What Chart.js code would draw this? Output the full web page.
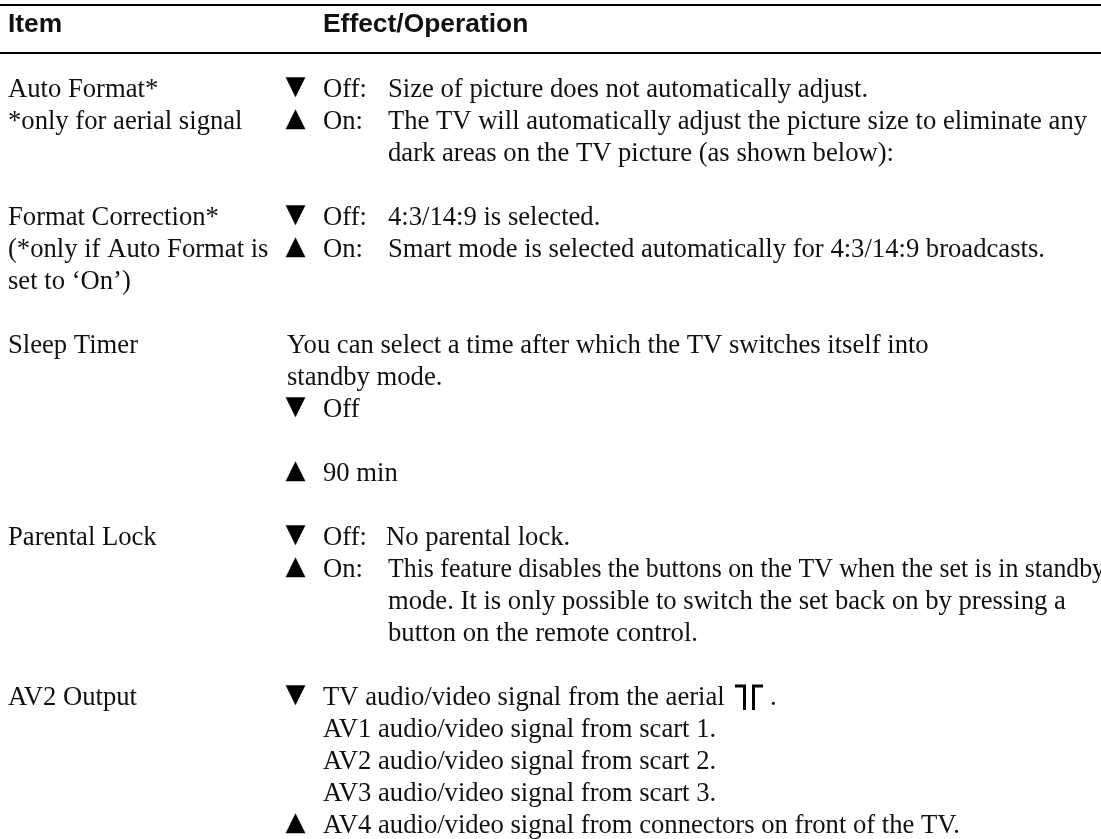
<!DOCTYPE html>
<html><head><meta charset="utf-8">
<script src="https://cdn.jsdelivr.net/npm/chart.js@4"></script>
<style>html,body{margin:0;padding:0;background:#fff}#w{position:absolute;left:0;top:0;width:1101px;height:839px}</style>
</head><body><div id="w"><canvas id="c" width="1101" height="839"></canvas></div>
<script>
const headerLabels = ["Item", "Effect/Operation"];
const itemLines = [
 ["Auto Format*", 97], ["*only for aerial signal", 129],
 ["Format Correction*", 225], ["(*only if Auto Format is", 257], ["set to ‘On’)", 289],
 ["Sleep Timer", 353], ["Parental Lock", 545], ["AV2 Output", 705]
];
const symbolLines = [
 ["▼", 97], ["▲", 129], ["▼", 225], ["▲", 257], ["▼", 417], ["▲", 481], ["▼", 545], ["▲", 577], ["▼", 705], ["▲", 833]
];
const effectLines = [
 ["Off:", 323, 97], ["Size of picture does not automatically adjust.", 388, 97],
 ["On:", 323, 129], ["The TV will automatically adjust the picture size to eliminate any", 388, 129, 699],
 ["dark areas on the TV picture (as shown below):", 388, 161],
 ["Off:", 323, 225], ["4:3/14:9 is selected.", 388, 225],
 ["On:", 323, 257], ["Smart mode is selected automatically for 4:3/14:9 broadcasts.", 388, 257],
 ["You can select a time after which the TV switches itself into", 287, 353],
 ["standby mode.", 287, 385], ["Off", 323, 417], ["90 min", 323, 481],
 ["Off:", 323, 545], ["No parental lock.", 386, 545],
 ["On:", 323, 577], ["This feature disables the buttons on the TV when the set is in standby", 388, 577, 717],
 ["mode. It is only possible to switch the set back on by pressing a", 388, 609],
 ["button on the remote control.", 388, 641],
 ["TV audio/video signal from the aerial", 323, 705], [".", 770, 705],
 ["AV1 audio/video signal from scart 1.", 323, 737],
 ["AV2 audio/video signal from scart 2.", 323, 769],
 ["AV3 audio/video signal from scart 3.", 323, 801],
 ["AV4 audio/video signal from connectors on front of the TV.", 323, 833]
];
const textPlugin = {
 id: 'textPlugin',
 afterDatasetsDraw(chart) {
  const {ctx, scales:{x, y}} = chart;
  ctx.save(); ctx.fillStyle = '#111'; ctx.textBaseline = 'alphabetic'; ctx.textAlign='left';
  ctx.font = 'bold 26.4px "Liberation Sans"';
  ctx.fillText(headerLabels[0], x.getPixelForValue(8), y.getPixelForValue(32));
  ctx.fillText(headerLabels[1], x.getPixelForValue(323), y.getPixelForValue(32));
  ctx.font = '26.65px "Liberation Serif"';
  itemLines.forEach(([t, yy]) => ctx.fillText(t, x.getPixelForValue(8), y.getPixelForValue(yy)));
  effectLines.forEach(([t, xx, yy, fit]) => {
    if (fit) ctx.fillText(t, x.getPixelForValue(xx), y.getPixelForValue(yy), fit);
    else ctx.fillText(t, x.getPixelForValue(xx), y.getPixelForValue(yy));
  });
  ctx.fillStyle = '#000';
  ctx.font = '26px "DejaVu Sans"';
  symbolLines.forEach(([t, yy]) => ctx.fillText(t, x.getPixelForValue(285.5), y.getPixelForValue(yy - 3)));
  ctx.restore();
 }
};
new Chart(document.getElementById('c'), {
 type: 'scatter',
 data: { datasets: [
  {data:[{x:0,y:5},{x:1101,y:5}], showLine:true, borderColor:'#000', borderWidth:2, pointRadius:0},
  {data:[{x:0,y:53},{x:1101,y:53}], showLine:true, borderColor:'#000', borderWidth:2, pointRadius:0},
  {data:[{x:735,y:686},{x:744.5,y:686},{x:744.5,y:710}], showLine:true, borderColor:'#000', borderWidth:3, pointRadius:0},
  {data:[{x:753.5,y:710},{x:753.5,y:686},{x:763,y:686}], showLine:true, borderColor:'#000', borderWidth:3, pointRadius:0}
 ]},
 options: {
  responsive:false, animation:false, layout:{padding:0},
  plugins:{legend:{display:false}, tooltip:{enabled:false}},
  scales:{
   x:{type:'linear',min:0,max:1101,display:false},
   y:{type:'linear',min:0,max:839,reverse:true,display:false}
  }
 },
 plugins:[textPlugin]
});
</script></body></html>
